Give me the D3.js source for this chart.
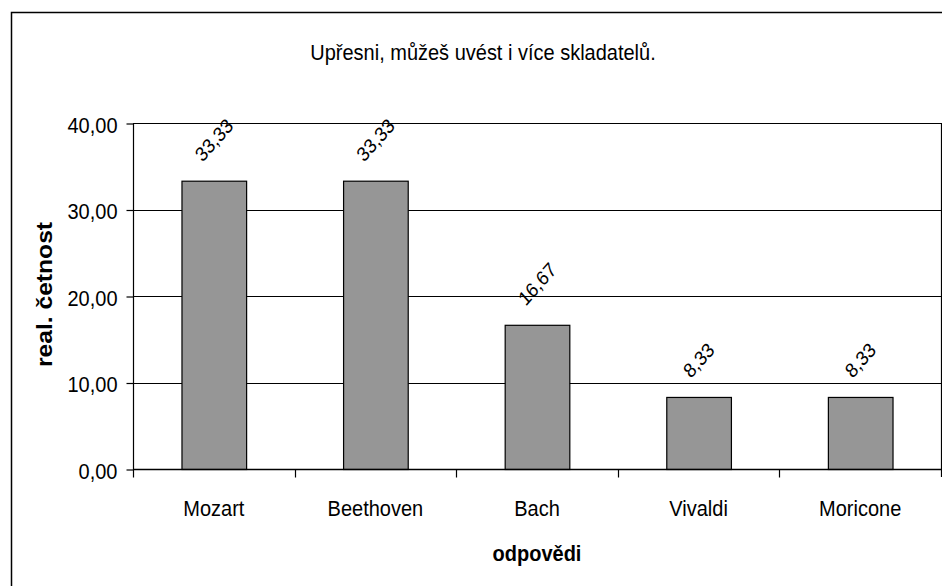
<!DOCTYPE html>
<html><head><meta charset="utf-8">
<script src="https://cdn.jsdelivr.net/npm/d3@7"></script>
<style>body{margin:0;background:#fff}svg{display:block}text{font-family:"Liberation Sans",Arial,sans-serif;fill:#000}</style>
</head><body>
<svg id="c" width="942" height="586"></svg>
<script>
const categories = ["Mozart","Beethoven","Bach","Vivaldi","Moricone"];
const values = [33.33,33.33,16.67,8.33,8.33];
const valueLabels = ["33,33","33,33","16,67","8,33","8,33"];
const yTicks = [0,10,20,30,40];
const title = "Upřesni, můžeš uvést i více skladatelů.";
const yTitle = "real. četnost";
const xTitle = "odpovědi";

const S = 1.12; // vertical text stretch
const svg = d3.select("#c");
const L = 133, R = 941, T = 123, B = 469;
const y = d3.scaleLinear().domain([0,40]).range([B,T]);
const xBand = d3.scaleBand().domain(categories).range([L,R]).paddingInner(0.6).paddingOuter(0.3);
const xCat = d3.scaleBand().domain(categories).range([L,R]).padding(0);
const fmt = v => d3.format(".2f")(v).replace(".",",");

// outer border
svg.append("rect").attr("x",11.5).attr("y",12.5).attr("width",960).attr("height",600)
  .attr("fill","none").attr("stroke","#000").attr("stroke-width",1.5);

// title
svg.append("text").attr("transform",`translate(483,60) scale(1,${S})`).attr("text-anchor","middle")
  .style("font-size","20px").text(title);

// gridlines
svg.append("g").selectAll("line").data(yTicks.filter(d=>d>0)).join("line")
  .attr("x1",L).attr("x2",R).attr("y1",d=>Math.round(y(d))+0.5).attr("y2",d=>Math.round(y(d))+0.5)
  .attr("stroke","#000").attr("stroke-width",1.2);

// right border of plot
svg.append("line").attr("x1",R+0.5).attr("x2",R+0.5).attr("y1",T).attr("y2",B+8)
  .attr("stroke","#000").attr("stroke-width",1.2);

// bars
svg.append("g").selectAll("rect").data(values).join("rect")
  .attr("x",(d,i)=>xBand(categories[i])+0.5).attr("width",xBand.bandwidth())
  .attr("y",d=>y(d)+0.5).attr("height",d=>B-y(d))
  .attr("fill","#969696").attr("stroke","#000").attr("stroke-width",1.2);

// y axis
const yAxis = d3.axisLeft(y).tickValues(yTicks).tickFormat(fmt).tickSize(7).tickPadding(9);
const gy = svg.append("g").attr("transform",`translate(${L+0.5},0.5)`).call(yAxis);
gy.select(".domain").attr("d",`M0,${T}V${B+8}`).attr("stroke","#000").attr("stroke-width",1.2);
gy.selectAll(".tick line").attr("stroke","#000").attr("stroke-width",1.2);
gy.selectAll(".tick text").style("font-size","20px").style("font-family",'"Liberation Sans",Arial,sans-serif')
  .attr("dy","0.4em").attr("transform",`scale(1,${S})`);

// x axis
const gx = svg.append("g").attr("transform",`translate(0,${B+0.5})`);
gx.append("line").attr("x1",L).attr("x2",R+1).attr("y1",0).attr("y2",0).attr("stroke","#000").attr("stroke-width",1.5);
gx.selectAll("line.t").data(categories.slice(1)).join("line").attr("class","t")
  .attr("x1",d=>Math.round(xCat(d))+0.5).attr("x2",d=>Math.round(xCat(d))+0.5).attr("y1",0).attr("y2",8)
  .attr("stroke","#000").attr("stroke-width",1.2);
gx.selectAll("text").data(categories).join("text")
  .attr("transform",d=>`translate(${xCat(d)+xCat.bandwidth()/2},46) scale(1,${S})`).attr("text-anchor","middle")
  .style("font-size","20px").text(d=>d);

// value labels rotated
const fs = 18;
const lab = svg.append("g").selectAll("text").data(values).join("text")
  .style("font-size",fs+"px").text((d,i)=>valueLabels[i]);
lab.each(function(d,i){
  const len = this.getComputedTextLength();
  const a = 0.72*fs;
  const cx = xBand(categories[i]) + xBand.bandwidth()/2;
  const px = cx - 0.354*(len - a);
  const py = y(d) - 18;
  d3.select(this).attr("transform",`translate(${px},${py}) scale(1,${S}) rotate(-45)`);
});

// axis titles
svg.append("text").attr("transform",`translate(52,${(T+B)/2 - 1.5}) scale(1,${S}) rotate(-90)`).attr("text-anchor","middle")
  .style("font-size","22px").style("font-weight","bold").text(yTitle);
svg.append("text").attr("transform",`translate(${(L+R)/2},561) scale(1,${S})`).attr("text-anchor","middle")
  .style("font-size","20px").style("font-weight","bold").text(xTitle);
</script>
</body></html>
